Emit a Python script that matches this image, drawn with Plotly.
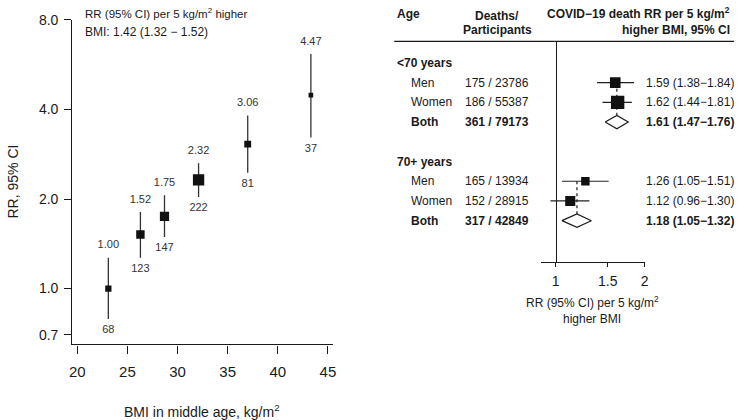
import plotly.graph_objects as go
import numpy as np

W, H = 738, 420

# ---- left panel: RR by BMI group ----
bmi = [23.1, 26.3, 28.7, 32.1, 37.0, 43.3]
rr = [1.00, 1.52, 1.75, 2.32, 3.06, 4.47]
rr_lo = [0.79, 1.27, 1.49, 2.03, 2.45, 3.22]
rr_hi = [1.27, 1.81, 2.06, 2.64, 3.82, 6.15]
deaths = [68, 123, 147, 222, 81, 37]
y_ticks = [0.7, 1, 2, 4, 8]
y_ticktext = ["0.7", "1.0", "2.0", "4.0", "8.0"]
x_ticks = [20, 25, 30, 35, 40, 45]

# ---- right panel: forest plot ----
age_groups = ["<70 years", "70+ years"]
sexes = ["Men", "Women", "Both"]
f_deaths = [[175, 186, 361], [165, 152, 317]]
f_part = [[23786, 55387, 79173], [13934, 28915, 42849]]
f_rr = [[1.59, 1.62, 1.61], [1.26, 1.12, 1.18]]
f_lo = [[1.38, 1.44, 1.47], [1.05, 0.96, 1.05]]
f_hi = [[1.84, 1.81, 1.76], [1.51, 1.30, 1.32]]
f_ticks = [1, 1.5, 2]

FONT = "Liberation Sans, Arial, sans-serif"
INK = "#1a1a1a"


def px(x):
    return x / W


def py(y):
    return 1 - y / H


fig = go.Figure()

# left: squares with CIs
fig.add_trace(go.Scatter(
    x=bmi, y=rr, mode="markers",
    marker=dict(symbol="square", color="#111", opacity=1,
                size=[0.76 * np.sqrt(d) for d in deaths], line=dict(width=0)),
    error_y=dict(type="data", symmetric=False,
                 array=[h - r for h, r in zip(rr_hi, rr)],
                 arrayminus=[r - l for r, l in zip(rr, rr_lo)],
                 width=0, thickness=1.3, color="#333"),
    xaxis="x", yaxis="y", showlegend=False, hoverinfo="skip"))
# value labels above / death counts below (invisible marker pads the gap)
fig.add_trace(go.Scatter(
    x=bmi, y=rr_hi, mode="markers+text", text=[f"{v:.2f}" for v in rr],
    marker=dict(size=9, opacity=0),
    textposition="top center", textfont=dict(size=11, color="#333", family=FONT),
    xaxis="x", yaxis="y", showlegend=False, hoverinfo="skip"))
fig.add_trace(go.Scatter(
    x=bmi, y=rr_lo, mode="markers+text", text=[str(d) for d in deaths],
    marker=dict(size=8, opacity=0),
    textposition="bottom center", textfont=dict(size=11, color="#333", family=FONT),
    xaxis="x", yaxis="y", showlegend=False, hoverinfo="skip"))

# right: forest plot, row index per line
ann = []
sq_x, sq_y, sq_s, lo_e, hi_e = [], [], [], [], []
dia_x, dia_y, dash_x, dash_y = [], [], [], []
for g, grp in enumerate(age_groups):
    base = 5 * g
    ann.append(dict(x=px(396), y=base, text="<b>%s</b>" % grp, xanchor="left"))
    for i, s in enumerate(sexes):
        k = base + 1 + i
        r, lo, hi = f_rr[g][i], f_lo[g][i], f_hi[g][i]
        bold = s == "Both"
        wrap = (lambda t: "<b>%s</b>" % t) if bold else (lambda t: t)
        ann.append(dict(x=px(410), y=k, text=wrap(s), xanchor="left"))
        ann.append(dict(x=px(464), y=k, text=wrap("%d / %d" % (f_deaths[g][i], f_part[g][i])),
                        xanchor="left"))
        ann.append(dict(x=px(647), y=k, text=wrap("%.2f (%.2f\u2212%.2f)" % (r, lo, hi)),
                        xanchor="left"))
        if bold:
            h = 0.34
            dia_x += [lo, r, hi, r, lo, None]
            dia_y += [k, k - h, k, k + h, k, None]
            dash_x += [r, r, None]
            dash_y += [base + 1, k - h, None]
        else:
            se = (np.log(hi) - np.log(lo)) / 3.92
            sq_x.append(r)
            sq_y.append(k)
            sq_s.append(0.78 / se)
            lo_e.append(r - lo)
            hi_e.append(hi - r)

fig.add_trace(go.Scatter(
    x=dash_x, y=dash_y, mode="lines", line=dict(color=INK, width=1.2, dash="3px,3px"),
    xaxis="x2", yaxis="y2", showlegend=False, hoverinfo="skip"))
fig.add_trace(go.Scatter(
    x=sq_x, y=sq_y, mode="markers",
    marker=dict(symbol="square", color="#111", opacity=1, size=sq_s, line=dict(width=0)),
    error_x=dict(type="data", symmetric=False, array=hi_e, arrayminus=lo_e,
                 width=0, thickness=1.2, color="#222"),
    xaxis="x2", yaxis="y2", showlegend=False, hoverinfo="skip"))
fig.add_trace(go.Scatter(
    x=dia_x, y=dia_y, mode="lines", fill="toself", fillcolor="white",
    line=dict(color=INK, width=1.2),
    xaxis="x2", yaxis="y2", showlegend=False, hoverinfo="skip"))

annotations = []
for a in ann:
    a.update(xref="paper", yref="y2", yanchor="middle", showarrow=False,
             font=dict(size=12, color=INK, family=FONT))
    annotations.append(a)


def label(x, y, text, size=12, xanchor="center", angle=0):
    return dict(x=px(x), y=py(y), xref="paper", yref="paper", xanchor=xanchor,
                yanchor="middle", showarrow=False, text=text, textangle=angle,
                font=dict(size=size, family=FONT, color=INK))


annotations += [
    label(81, 5, "RR (95% CI) per 5 kg/m<sup>2</sup> higher", size=11.5, xanchor="left"),
    label(81, 24, "BMI: 1.42 (1.32 \u2212 1.52)", xanchor="left"),
    label(10, 177, "RR, 95% CI", size=14, angle=-90),
    label(201, 411, "BMI in middle age, kg/m<sup>2</sup>", size=14),
    label(396, 6, "<b>Age</b>", xanchor="left"),
    label(499, 8, "<b>Deaths/</b>"),
    label(499, 22, "<b>Participants</b>"),
    label(736, 5, "<b>COVID\u221219 death RR per 5 kg/m<sup>2</sup></b>", xanchor="right"),
    label(736, 22, "<b>higher BMI, 95% CI</b>", xanchor="right"),
    label(595, 300, "RR (95% CI) per 5 kg/m<sup>2</sup>"),
    label(595, 317, "higher BMI"),
]

axis_common = dict(showgrid=False, zeroline=False, showline=True, linecolor=INK,
                   linewidth=1.3, tickcolor=INK, tickwidth=1.2, ticks="outside",
                   tickfont=dict(family=FONT, color=INK))

fig.update_layout(
    width=W, height=H, margin=dict(l=0, r=0, t=0, b=0),
    paper_bgcolor="white", plot_bgcolor="white",
    xaxis=dict(domain=[px(70), px(333)], range=[19.51, 45.49], anchor="y",
               tickvals=x_ticks, ticklen=8, ticklabelstandoff=5, **axis_common),
    yaxis=dict(domain=[py(343), py(12)], type="log", anchor="x",
               range=[np.log10(2 ** -0.624), np.log10(8) + 0.0005],
               tickvals=y_ticks, ticktext=y_ticktext, ticklen=7, ticklabelstandoff=3,
               **axis_common),
    xaxis2=dict(domain=[px(543), px(648)], type="log", anchor="y2",
                range=[-0.0502, np.log10(2) + 0.0005],
                tickvals=f_ticks, ticktext=["1", "1.5", "2"], ticklen=4,
                ticklabelstandoff=2, **axis_common),
    yaxis2=dict(domain=[py(259), py(34)], range=[10.0995, -1.0945], anchor="free",
                position=px(558), showline=True, linecolor=INK, linewidth=1.3,
                showgrid=False, zeroline=False, showticklabels=False, ticks=""),
    annotations=annotations,
    shapes=[dict(type="line", xref="paper", yref="paper", x0=px(395), x1=1,
                 y0=py(34), y1=py(34), line=dict(color=INK, width=1.3))],
)
fig.update_xaxes(tickfont_size=15, selector=dict(anchor="y"))
fig.update_yaxes(tickfont_size=14, selector=dict(anchor="x"))
fig.update_xaxes(tickfont_size=14, selector=dict(anchor="y2"))

fig.write_html("out.html", config=dict(displayModeBar=False),
               post_script="document.body.style.margin='0';document.body.style.overflow='hidden';")
